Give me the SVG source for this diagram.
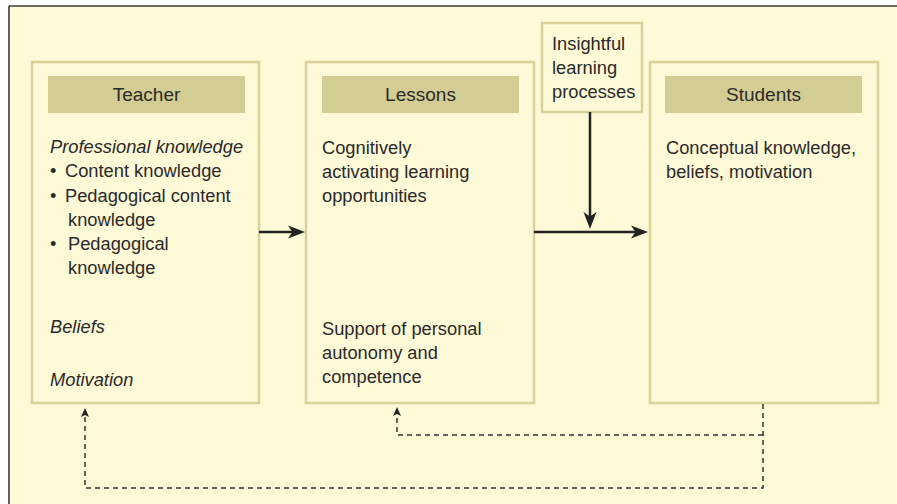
<svg xmlns="http://www.w3.org/2000/svg" width="897" height="504" viewBox="0 0 897 504">
  <style>
    .box { fill: #FEF9D6; stroke: #D8D29A; stroke-width: 2.5; }
    .hdr { fill: #D3CC93; }
    .t { font-family: "Liberation Sans", Arial, sans-serif; font-size: 18.3px; fill: #2a2a2a; }
    .h { font-family: "Liberation Sans", Arial, sans-serif; font-size: 19px; fill: #2a2a2a; text-anchor: middle; }
    .i { font-style: italic; }
    .solid { fill: none; stroke: #222; stroke-width: 2.5; }
    .dash { fill: none; stroke: #333; stroke-width: 1.5; stroke-dasharray: 5 4; }
  </style>
  <defs>
    <marker id="arr" markerUnits="userSpaceOnUse" markerWidth="20" markerHeight="14" viewBox="0 -7 20 14" refX="12" refY="0" orient="auto">
      <path d="M0,-6.5 L17,0 L0,6.5 L4.5,0 Z" fill="#222"/>
    </marker>
    <marker id="arrs" markerUnits="userSpaceOnUse" markerWidth="12" markerHeight="10" viewBox="0 -5 12 10" refX="5" refY="0" orient="auto">
      <path d="M0,-4 L9,0 L0,4 L2,0 Z" fill="#222"/>
    </marker>
  </defs>

  <rect x="0" y="0" width="897" height="504" fill="#FFFFFF"/>
  <rect x="9" y="6" width="888" height="498" fill="#FEF9D6"/>
  <line x1="9" y1="6" x2="897" y2="6" stroke="#6E6A64" stroke-width="2"/>
  <line x1="9" y1="6" x2="9" y2="504" stroke="#2a2a2a" stroke-width="1.5"/>

  <g id="teacher">
    <rect class="box" x="32" y="62" width="227" height="341"/>
    <rect class="hdr" x="48" y="76" width="197" height="37"/>
    <text class="h" x="146.5" y="101">Teacher</text>
    <text class="t i" x="50" y="153">Professional knowledge</text>
    <text class="t" x="50" y="177">•</text>
    <text class="t" x="65" y="177">Content knowledge</text>
    <text class="t" x="50" y="202">•</text>
    <text class="t" x="65" y="202">Pedagogical content</text>
    <text class="t" x="68" y="226">knowledge</text>
    <text class="t" x="50" y="250">•</text>
    <text class="t" x="68" y="250">Pedagogical</text>
    <text class="t" x="68" y="274">knowledge</text>
    <text class="t i" x="50" y="333">Beliefs</text>
    <text class="t i" x="50" y="386">Motivation</text>
  </g>

  <g id="lessons">
    <rect class="box" x="306" y="62" width="228" height="341"/>
    <rect class="hdr" x="322" y="76" width="197" height="37"/>
    <text class="h" x="420.5" y="101">Lessons</text>
    <text class="t" x="322" y="154">Cognitively</text>
    <text class="t" x="322" y="178">activating learning</text>
    <text class="t" x="322" y="202">opportunities</text>
    <text class="t" x="322" y="335">Support of personal</text>
    <text class="t" x="322" y="359">autonomy and</text>
    <text class="t" x="322" y="383">competence</text>
  </g>

  <g id="insight">
    <rect class="box" x="542" y="23" width="100" height="89"/>
    <text class="t" x="552" y="50">Insightful</text>
    <text class="t" x="552" y="74">learning</text>
    <text class="t" x="552" y="98">processes</text>
  </g>

  <g id="students">
    <rect class="box" x="650" y="62" width="228" height="341"/>
    <rect class="hdr" x="665" y="76" width="197" height="37"/>
    <text class="h" x="763.5" y="101">Students</text>
    <text class="t" x="666" y="154">Conceptual knowledge,</text>
    <text class="t" x="666" y="178">beliefs, motivation</text>
  </g>

  <g id="connectors">
    <line class="solid" x1="259" y1="232" x2="300" y2="232" marker-end="url(#arr)"/>
    <line class="solid" x1="534" y1="232" x2="643" y2="232" marker-end="url(#arr)"/>
    <line class="solid" x1="590" y1="112" x2="590" y2="224" marker-end="url(#arr)"/>
    <path class="dash" d="M763,404 V488 H85 V412" marker-end="url(#arrs)"/>
    <path class="dash" d="M763,435 H397 V411" marker-end="url(#arrs)"/>
  </g>
</svg>
